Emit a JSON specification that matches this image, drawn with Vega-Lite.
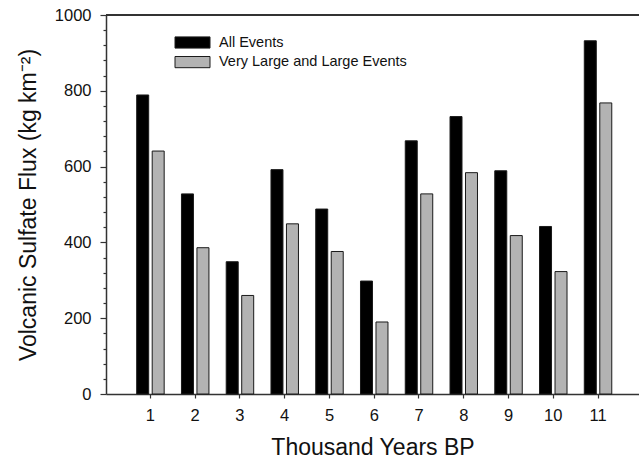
{
  "$schema": "https://vega.github.io/schema/vega-lite/v6.json",
  "width": 533,
  "height": 379,
  "autosize": {"type": "none"},
  "padding": {"left": 106, "top": 15, "right": 0, "bottom": 72},
  "background": "white",
  "config": {
    "font": "Liberation Sans",
    "view": {"stroke": null},
    "axis": {
      "domainColor": "#333333",
      "domainWidth": 1.5,
      "tickColor": "#333333",
      "tickWidth": 1.2,
      "labelColor": "#111111",
      "titleColor": "#111111",
      "labelFontSize": 16.5,
      "titleFontSize": 23,
      "titleFontWeight": "normal",
      "grid": false
    },
    "legend": {
      "labelFontSize": 14.5,
      "labelColor": "#111111",
      "labelLimit": 0
    }
  },
  "data": {
    "values": [
      {"kyr": 1, "series": "All Events", "flux": 789},
      {"kyr": 1, "series": "Very Large and Large Events", "flux": 641},
      {"kyr": 2, "series": "All Events", "flux": 528},
      {"kyr": 2, "series": "Very Large and Large Events", "flux": 386},
      {"kyr": 3, "series": "All Events", "flux": 349},
      {"kyr": 3, "series": "Very Large and Large Events", "flux": 260},
      {"kyr": 4, "series": "All Events", "flux": 592},
      {"kyr": 4, "series": "Very Large and Large Events", "flux": 449},
      {"kyr": 5, "series": "All Events", "flux": 488},
      {"kyr": 5, "series": "Very Large and Large Events", "flux": 376},
      {"kyr": 6, "series": "All Events", "flux": 298},
      {"kyr": 6, "series": "Very Large and Large Events", "flux": 190},
      {"kyr": 7, "series": "All Events", "flux": 668},
      {"kyr": 7, "series": "Very Large and Large Events", "flux": 528},
      {"kyr": 8, "series": "All Events", "flux": 732},
      {"kyr": 8, "series": "Very Large and Large Events", "flux": 584},
      {"kyr": 9, "series": "All Events", "flux": 589},
      {"kyr": 9, "series": "Very Large and Large Events", "flux": 418},
      {"kyr": 10, "series": "All Events", "flux": 442},
      {"kyr": 10, "series": "Very Large and Large Events", "flux": 323},
      {"kyr": 11, "series": "All Events", "flux": 932},
      {"kyr": 11, "series": "Very Large and Large Events", "flux": 768}
    ]
  },
  "resolve": {"axis": {"y": "independent"}},
  "layer": [
    {
      "mark": {"type": "bar", "stroke": "#1a1a1a", "strokeWidth": 1},
      "encoding": {
        "x": {
          "field": "kyr",
          "type": "ordinal",
          "title": "Thousand Years BP",
          "scale": {"paddingInner": 0.386, "paddingOuter": 0.647, "align": 0.53},
          "axis": {
            "labelAngle": 0,
            "tickSize": 4,
            "labelPadding": 9,
            "titlePadding": 13
          }
        },
        "xOffset": {
          "field": "series",
          "type": "nominal",
          "scale": {"paddingInner": 0.226, "paddingOuter": 0}
        },
        "y": {
          "field": "flux",
          "type": "quantitative",
          "title": "Volcanic Sulfate Flux (kg km⁻²)",
          "scale": {"domain": [0, 1000], "nice": false},
          "axis": {
            "orient": "left",
            "values": [0, 200, 400, 600, 800, 1000],
            "format": "d",
            "labelOverlap": false,
            "tickSize": 6,
            "labelPadding": 9,
            "titlePadding": 14
          }
        },
        "color": {
          "field": "series",
          "type": "nominal",
          "scale": {
            "domain": ["All Events", "Very Large and Large Events"],
            "range": ["#000000", "#b3b3b3"]
          },
          "legend": {
            "title": null,
            "orient": "none",
            "legendX": 79,
            "legendY": 20,
            "padding": 0,
            "symbolType": "M-2.5,-0.8H2.5V0.8H-2.5Z",
            "symbolSize": 196,
            "symbolStrokeColor": "#1a1a1a",
            "symbolStrokeWidth": 1,
            "symbolOpacity": 1,
            "labelOffset": 19,
            "rowPadding": 2.6
          }
        }
      }
    },
    {
      "mark": {"type": "rule", "color": "#333333", "strokeWidth": 1.5},
      "encoding": {
        "y": {
          "datum": 1000,
          "type": "quantitative",
          "axis": {
            "orient": "left",
            "title": null,
            "labels": false,
            "domain": false,
            "tickSize": 3,
            "values": [40, 80, 120, 160, 240, 280, 320, 360, 440, 480, 520, 560, 640, 680, 720, 760, 840, 880, 920, 960]
          }
        }
      }
    }
  ]
}
